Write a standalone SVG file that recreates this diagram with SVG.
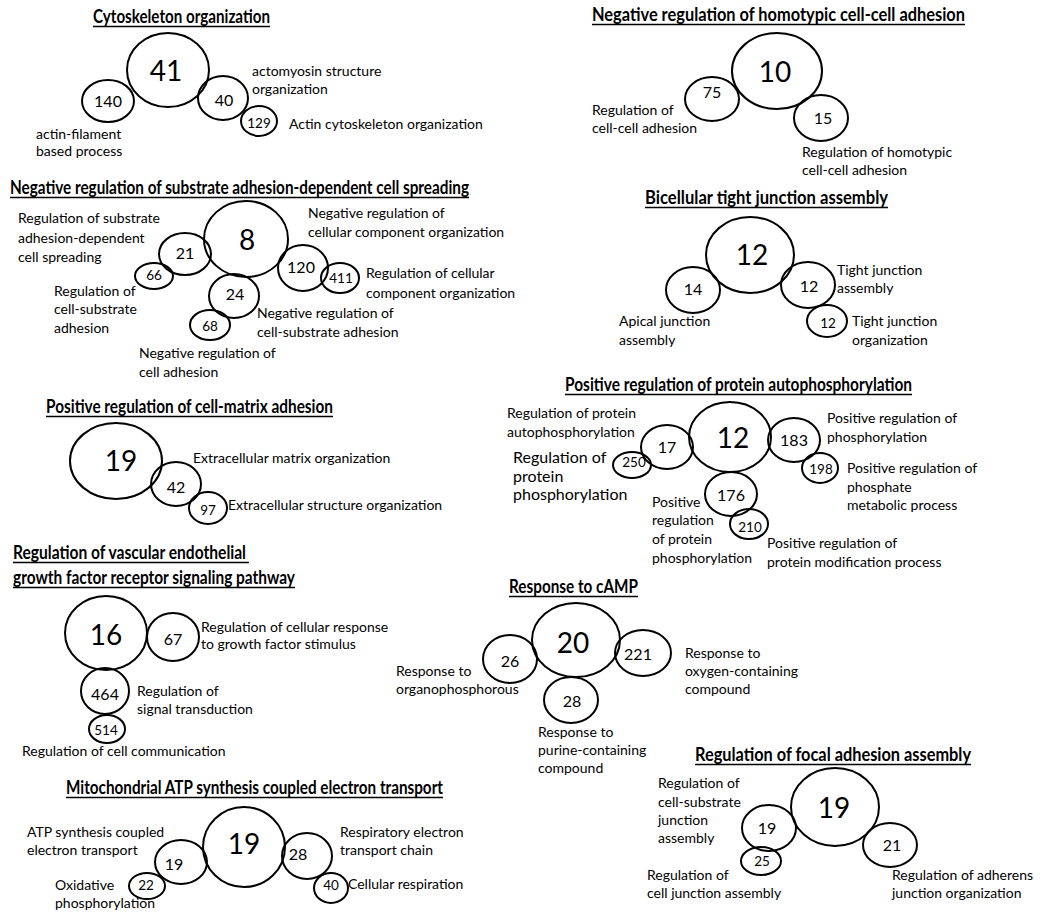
<svg xmlns="http://www.w3.org/2000/svg" width="1050" height="918" viewBox="0 0 1050 918">
<style>
.bg{fill:#fff}
ellipse{fill:none;stroke:#000;stroke-width:2}
.t{font-family:Lato,"Open Sans","Liberation Sans",sans-serif;font-weight:bold;font-size:19px;fill:#000}
.u{stroke:#000;stroke-width:1.3}
.l{font-family:Lato,"Open Sans","Liberation Sans",sans-serif;font-size:14px;fill:#000}
.lb{font-family:Lato,"Open Sans","Liberation Sans",sans-serif;font-size:16px;fill:#000}
.n1{font-family:Lato,"Open Sans","Liberation Sans",sans-serif;font-size:28px;fill:#000;text-anchor:middle}
.n2{font-family:Lato,"Open Sans","Liberation Sans",sans-serif;font-size:16px;fill:#000;text-anchor:middle}
.n3{font-family:Lato,"Open Sans","Liberation Sans",sans-serif;font-size:13.5px;fill:#000;text-anchor:middle}
</style>
<rect class="bg" x="0" y="0" width="1050" height="918"/>
<g id="connectors"/>

<g id="cluster-cytoskeleton">
<text class="t" x="93" y="23" textLength="177" lengthAdjust="spacingAndGlyphs">Cytoskeleton organization</text>
<line class="u" x1="93" y1="26.5" x2="270" y2="26.5"/>
<g id="c1-41"><ellipse cx="168" cy="70" rx="41" ry="37"/><text class="n1" x="166" y="81">41</text></g>
<g id="c1-140"><ellipse cx="108" cy="101" rx="26" ry="21"/><text class="n2" x="108" y="107">140</text>
<text class="l" x="36" y="139">actin-filament</text><text class="l" x="36" y="156">based process</text></g>
<g id="c1-40"><ellipse cx="223" cy="98" rx="25" ry="22"/><text class="n2" x="224" y="106">40</text>
<text class="l" x="252" y="76">actomyosin structure</text><text class="l" x="252" y="94">organization</text></g>
<g id="c1-129"><ellipse cx="259" cy="121" rx="18" ry="15"/><text class="n3" x="259" y="128">129</text>
<text class="l" x="289" y="129">Actin cytoskeleton organization</text></g>
</g>

<g id="cluster-neg-spreading">
<text class="t" x="10" y="194" textLength="459" lengthAdjust="spacingAndGlyphs">Negative regulation of substrate adhesion-dependent cell spreading</text>
<line class="u" x1="10" y1="197.5" x2="469" y2="197.5"/>
<g id="c2-8"><ellipse cx="246" cy="239" rx="42" ry="38"/><text class="n1" x="247" y="250">8</text></g>
<g id="c2-21"><ellipse cx="185" cy="254" rx="26" ry="21"/><text class="n2" x="185" y="259">21</text>
<text class="l" x="18" y="223">Regulation of substrate</text><text class="l" x="18" y="243">adhesion-dependent</text><text class="l" x="18" y="262">cell spreading</text></g>
<g id="c2-66"><ellipse cx="154" cy="276" rx="19" ry="13"/><text class="n3" x="154" y="280">66</text>
<text class="l" x="54" y="296">Regulation of</text><text class="l" x="54" y="314">cell-substrate</text><text class="l" x="54" y="333">adhesion</text></g>
<g id="c2-24"><ellipse cx="234" cy="296" rx="25" ry="22"/><text class="n2" x="235" y="300">24</text>
<text class="l" x="257" y="318">Negative regulation of</text><text class="l" x="257" y="337">cell-substrate adhesion</text></g>
<g id="c2-68"><ellipse cx="210" cy="325" rx="20" ry="15"/><text class="n3" x="210" y="331">68</text>
<text class="l" x="139" y="358">Negative regulation of</text><text class="l" x="139" y="377">cell adhesion</text></g>
<g id="c2-120"><ellipse cx="303" cy="268" rx="25" ry="23"/><text class="n2" x="301" y="273">120</text>
<text class="l" x="308" y="218">Negative regulation of</text><text class="l" x="308" y="237">cellular component organization</text></g>
<g id="c2-411"><ellipse cx="340" cy="278" rx="19" ry="15"/><text class="n3" x="341" y="283">411</text>
<text class="l" x="366" y="278">Regulation of cellular</text><text class="l" x="366" y="298">component organization</text></g>
</g>

<g id="cluster-cell-matrix">
<text class="t" x="46" y="413" textLength="287" lengthAdjust="spacingAndGlyphs">Positive regulation of cell-matrix adhesion</text>
<line class="u" x1="46" y1="416.5" x2="333" y2="416.5"/>
<g id="c3-19"><ellipse cx="116" cy="461" rx="46" ry="38"/><text class="n1" x="121" y="471">19</text></g>
<g id="c3-42"><ellipse cx="176" cy="484" rx="25" ry="22"/><text class="n2" x="176" y="493">42</text>
<text class="l" x="193" y="463">Extracellular matrix organization</text></g>
<g id="c3-97"><ellipse cx="208" cy="508" rx="19" ry="16"/><text class="n3" x="208" y="515">97</text>
<text class="l" x="228" y="510">Extracellular structure organization</text></g>
</g>

<g id="cluster-vegf">
<text class="t" x="13" y="559" textLength="233" lengthAdjust="spacingAndGlyphs">Regulation of vascular endothelial</text>
<line class="u" x1="13" y1="562.5" x2="249" y2="562.5"/>
<text class="t" x="13" y="584" textLength="282" lengthAdjust="spacingAndGlyphs">growth factor receptor signaling pathway</text>
<line class="u" x1="13" y1="587.5" x2="295" y2="587.5"/>
<g id="c4-16"><ellipse cx="106" cy="633" rx="41" ry="37"/><text class="n1" x="106" y="645">16</text></g>
<g id="c4-67"><ellipse cx="173" cy="637" rx="26" ry="24"/><text class="n2" x="173" y="645">67</text>
<text class="l" x="201" y="632">Regulation of cellular response</text><text class="l" x="201" y="649">to growth factor stimulus</text></g>
<g id="c4-464"><ellipse cx="105" cy="691" rx="24" ry="23"/><text class="n2" x="105" y="700">464</text>
<text class="l" x="137" y="696">Regulation of</text><text class="l" x="137" y="714">signal transduction</text></g>
<g id="c4-514"><ellipse cx="107" cy="729" rx="18" ry="14"/><text class="n3" x="106" y="735">514</text>
<text class="l" x="22" y="756">Regulation of cell communication</text></g>
</g>

<g id="cluster-mito">
<text class="t" x="66" y="794" textLength="377" lengthAdjust="spacingAndGlyphs">Mitochondrial ATP synthesis coupled electron transport</text>
<line class="u" x1="66" y1="797.5" x2="443" y2="797.5"/>
<g id="c5-19a"><ellipse cx="244" cy="847" rx="41" ry="40"/><text class="n1" x="244" y="854">19</text></g>
<g id="c5-19b"><ellipse cx="181" cy="862" rx="26" ry="22"/><text class="n2" x="174" y="870">19</text>
<text class="l" x="27" y="837">ATP synthesis coupled</text><text class="l" x="27" y="855">electron transport</text></g>
<g id="c5-22"><ellipse cx="147" cy="886" rx="18" ry="13"/><text class="n3" x="146" y="890">22</text>
<text class="l" x="55" y="890">Oxidative</text><text class="l" x="55" y="908">phosphorylation</text></g>
<g id="c5-28"><ellipse cx="307" cy="856" rx="25" ry="23"/><text class="n2" x="298" y="860">28</text>
<text class="l" x="340" y="837">Respiratory electron</text><text class="l" x="340" y="855">transport chain</text></g>
<g id="c5-40"><ellipse cx="331" cy="888" rx="17" ry="15"/><text class="n3" x="331" y="890">40</text>
<text class="l" x="348" y="889">Cellular respiration</text></g>
</g>

<g id="cluster-homotypic">
<text class="t" x="592" y="21" textLength="373" lengthAdjust="spacingAndGlyphs">Negative regulation of homotypic cell-cell adhesion</text>
<line class="u" x1="592" y1="24.5" x2="965" y2="24.5"/>
<g id="c6-10"><ellipse cx="777" cy="71" rx="45" ry="38"/><text class="n1" x="775" y="82">10</text></g>
<g id="c6-75"><ellipse cx="712" cy="99" rx="27" ry="22"/><text class="n2" x="712" y="98">75</text>
<text class="l" x="592" y="115">Regulation of</text><text class="l" x="592" y="133">cell-cell adhesion</text></g>
<g id="c6-15"><ellipse cx="821" cy="118" rx="27" ry="23"/><text class="n2" x="823" y="124">15</text>
<text class="l" x="802" y="157">Regulation of homotypic</text><text class="l" x="802" y="175">cell-cell adhesion</text></g>
</g>

<g id="cluster-tight">
<text class="t" x="645" y="204" textLength="243" lengthAdjust="spacingAndGlyphs">Bicellular tight junction assembly</text>
<line class="u" x1="645" y1="207.5" x2="888" y2="207.5"/>
<g id="c7-12a"><ellipse cx="750" cy="255" rx="44" ry="38"/><text class="n1" x="752" y="265">12</text></g>
<g id="c7-14"><ellipse cx="693" cy="290" rx="27" ry="23"/><text class="n2" x="693" y="295">14</text>
<text class="l" x="619" y="326">Apical junction</text><text class="l" x="619" y="345">assembly</text></g>
<g id="c7-12b"><ellipse cx="808" cy="285" rx="27" ry="23"/><text class="n2" x="809" y="292">12</text>
<text class="l" x="837" y="275">Tight junction</text><text class="l" x="837" y="293">assembly</text></g>
<g id="c7-12c"><ellipse cx="827" cy="321" rx="20" ry="16"/><text class="n3" x="828" y="328">12</text>
<text class="l" x="852" y="326">Tight junction</text><text class="l" x="852" y="345">organization</text></g>
</g>

<g id="cluster-autophos">
<text class="t" x="565" y="391" textLength="347" lengthAdjust="spacingAndGlyphs">Positive regulation of protein autophosphorylation</text>
<line class="u" x1="565" y1="394.5" x2="912" y2="394.5"/>
<g id="c8-12"><ellipse cx="730" cy="437" rx="41" ry="35"/><text class="n1" x="733" y="448">12</text></g>
<g id="c8-17"><ellipse cx="667" cy="447" rx="26" ry="22"/><text class="n2" x="667" y="453">17</text>
<text class="l" x="507" y="418">Regulation of protein</text><text class="l" x="507" y="437">autophosphorylation</text></g>
<g id="c8-250"><ellipse cx="632" cy="465" rx="19" ry="13"/><text class="n3" x="634" y="467">250</text>
<text class="lb" x="513" y="463">Regulation of</text><text class="lb" x="513" y="482">protein</text><text class="lb" x="513" y="500">phosphorylation</text></g>
<g id="c8-183"><ellipse cx="794" cy="440" rx="26" ry="22"/><text class="n2" x="794" y="446">183</text>
<text class="l" x="827" y="423">Positive regulation of</text><text class="l" x="827" y="442">phosphorylation</text></g>
<g id="c8-198"><ellipse cx="820" cy="468" rx="18" ry="15"/><text class="n3" x="821" y="474">198</text>
<text class="l" x="847" y="473">Positive regulation of</text><text class="l" x="847" y="492">phosphate</text><text class="l" x="847" y="510">metabolic process</text></g>
<g id="c8-176"><ellipse cx="731" cy="494" rx="26" ry="22"/><text class="n2" x="731" y="501">176</text>
<text class="l" x="652" y="507">Positive</text><text class="l" x="652" y="525">regulation</text><text class="l" x="652" y="544">of protein</text><text class="l" x="652" y="563">phosphorylation</text></g>
<g id="c8-210"><ellipse cx="749" cy="524" rx="19" ry="15"/><text class="n3" x="750" y="532">210</text>
<text class="l" x="767" y="548">Positive regulation of</text><text class="l" x="767" y="567">protein modification process</text></g>
</g>

<g id="cluster-camp">
<text class="t" x="509" y="593" textLength="129" lengthAdjust="spacingAndGlyphs">Response to cAMP</text>
<line class="u" x1="509" y1="596.5" x2="638" y2="596.5"/>
<g id="c9-20"><ellipse cx="576" cy="640" rx="44" ry="37"/><text class="n1" x="573" y="653">20</text></g>
<g id="c9-26"><ellipse cx="510" cy="659" rx="27" ry="24"/><text class="n2" x="510" y="667">26</text>
<text class="l" x="396" y="676">Response to</text><text class="l" x="396" y="694">organophosphorous</text></g>
<g id="c9-221"><ellipse cx="643" cy="653" rx="28" ry="23"/><text class="n2" x="638" y="660">221</text>
<text class="l" x="685" y="658">Response to</text><text class="l" x="685" y="676">oxygen-containing</text><text class="l" x="685" y="694">compound</text></g>
<g id="c9-28"><ellipse cx="571" cy="700" rx="27" ry="23"/><text class="n2" x="572" y="707">28</text>
<text class="l" x="538" y="737">Response to</text><text class="l" x="538" y="755">purine-containing</text><text class="l" x="538" y="773">compound</text></g>
</g>

<g id="cluster-focal">
<text class="t" x="695" y="761" textLength="276" lengthAdjust="spacingAndGlyphs">Regulation of focal adhesion assembly</text>
<line class="u" x1="695" y1="764.5" x2="971" y2="764.5"/>
<g id="c10-19a"><ellipse cx="835" cy="807" rx="44" ry="39"/><text class="n1" x="834" y="818">19</text></g>
<g id="c10-19b"><ellipse cx="769" cy="828" rx="27" ry="23"/><text class="n2" x="767" y="834">19</text>
<text class="l" x="658" y="788">Regulation of</text><text class="l" x="658" y="807">cell-substrate</text><text class="l" x="658" y="825">junction</text><text class="l" x="658" y="843">assembly</text></g>
<g id="c10-25"><ellipse cx="761" cy="861" rx="20" ry="14"/><text class="n3" x="762" y="866">25</text>
<text class="l" x="647" y="880">Regulation of</text><text class="l" x="647" y="898">cell junction assembly</text></g>
<g id="c10-21"><ellipse cx="890" cy="845" rx="27" ry="22"/><text class="n2" x="892" y="851">21</text>
<text class="l" x="892" y="880">Regulation of adherens</text><text class="l" x="892" y="898">junction organization</text></g>
</g>
</svg>
